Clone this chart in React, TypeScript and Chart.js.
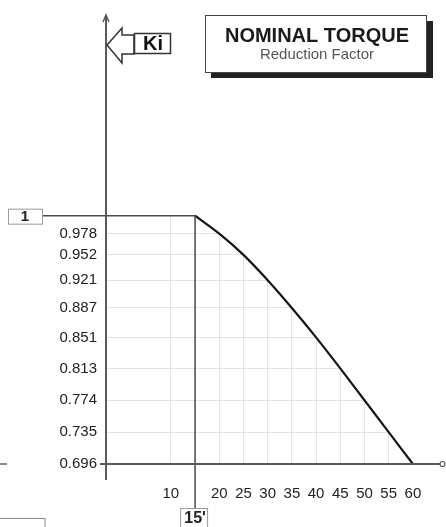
import { useEffect, useRef } from "react";
import { Chart, registerables } from "chart.js";

Chart.register(...registerables);

// ---- data ----
const DURATION = [15, 20, 25, 30, 35, 40, 45, 50, 55, 60];
const KI = [1, 0.978, 0.952, 0.921, 0.887, 0.851, 0.813, 0.774, 0.735, 0.696];
const X_TICKS = [10, 20, 25, 30, 35, 40, 45, 50, 55, 60];
const Y_TICKS = [0.978, 0.952, 0.921, 0.887, 0.851, 0.813, 0.774, 0.735, 0.696];
const X_MIN = -3.4;
const X_MAX = 65.6;
const Y_MIN = 0.696;
const Y_MAX = 1.242;
const KNEE = 15;
const KNEE_LABEL = "15'";
const ONE_LABEL = "1";
const TITLE = "NOMINAL TORQUE";
const SUBTITLE = "Reduction Factor";
const Y_NAME = "Ki";

const FONT = "'Liberation Sans', Arial, sans-serif";

const decor = {
  id: "decor",
  afterDatasetsDraw(chart: any) {
    const { ctx, chartArea: a, scales } = chart;
    const x = scales.x;
    const y = scales.y;
    const x0 = a.left;
    const y0 = y.getPixelForValue(Y_MIN);
    const yOne = y.getPixelForValue(1);
    const xK = x.getPixelForValue(KNEE);
    ctx.save();

    // knee vertical line
    ctx.strokeStyle = "#4a4a4a";
    ctx.lineWidth = 1.5;
    ctx.beginPath();
    ctx.moveTo(xK, yOne);
    ctx.lineTo(xK, 508);
    ctx.stroke();

    // axes
    ctx.strokeStyle = "#5a5a5a";
    ctx.lineWidth = 2;
    ctx.beginPath();
    ctx.moveTo(x0, a.top - 2);
    ctx.lineTo(x0, y0 + 16);
    ctx.stroke();
    ctx.beginPath();
    ctx.moveTo(x0 - 6, y0);
    ctx.lineTo(a.right, y0);
    ctx.stroke();
    // x-axis end circle
    ctx.lineWidth = 1.2;
    ctx.fillStyle = "#fff";
    ctx.beginPath();
    ctx.arc(a.right + 2.5, y0, 2.5, 0, Math.PI * 2);
    ctx.fill();
    ctx.stroke();
    // y-axis top mark
    ctx.lineWidth = 1.5;
    ctx.beginPath();
    ctx.moveTo(x0 - 3, a.top + 4);
    ctx.lineTo(x0, a.top - 3);
    ctx.lineTo(x0 + 3, a.top + 4);
    ctx.stroke();

    // "1" line and box
    ctx.strokeStyle = "#4a4a4a";
    ctx.lineWidth = 1.5;
    ctx.beginPath();
    ctx.moveTo(42, yOne);
    ctx.lineTo(x0, yOne);
    ctx.stroke();
    ctx.strokeStyle = "#9a9a9a";
    ctx.lineWidth = 1;
    ctx.strokeRect(8.5, yOne - 6.5, 34, 15);
    ctx.fillStyle = "#222";
    ctx.textAlign = "center";
    ctx.textBaseline = "middle";
    ctx.font = `bold 15px ${FONT}`;
    ctx.fillText(ONE_LABEL, 25, yOne + 1.5);

    // "15'" box
    ctx.strokeStyle = "#9a9a9a";
    ctx.strokeRect(xK - 14.5, 508.5, 27, 22);
    ctx.fillStyle = "#222";
    ctx.font = `bold 16px ${FONT}`;
    ctx.fillText(KNEE_LABEL, xK, 519);

    // Ki arrow + box
    const ty = a.top + 27;
    ctx.strokeStyle = "#333";
    ctx.lineWidth = 1.5;
    ctx.fillStyle = "#fff";
    ctx.beginPath();
    ctx.moveTo(x0 + 1, ty);
    ctx.lineTo(x0 + 16, ty - 17);
    ctx.lineTo(x0 + 16, ty - 10);
    ctx.lineTo(x0 + 28, ty - 10);
    ctx.lineTo(x0 + 28, ty + 9);
    ctx.lineTo(x0 + 16, ty + 9);
    ctx.lineTo(x0 + 16, ty + 18);
    ctx.closePath();
    ctx.fill();
    ctx.stroke();
    ctx.beginPath();
    ctx.rect(x0 + 28.5, ty - 11.5, 36, 20);
    ctx.fill();
    ctx.stroke();
    ctx.fillStyle = "#111";
    ctx.font = `bold 20px ${FONT}`;
    ctx.fillText(Y_NAME, x0 + 47, ty - 1);

    // title box with shadow
    ctx.fillStyle = "#222";
    ctx.fillRect(211, 72, 222, 6);
    ctx.fillRect(427, 21, 6, 57);
    ctx.fillStyle = "#fff";
    ctx.fillRect(205, 15, 222, 58);
    ctx.strokeStyle = "#444";
    ctx.lineWidth = 1;
    ctx.strokeRect(205.5, 15.5, 221, 57);
    ctx.fillStyle = "#1a1a1a";
    ctx.font = `bold 20px ${FONT}`;
    ctx.fillText(TITLE, 317, 36);
    ctx.fillStyle = "#555";
    ctx.font = `15px ${FONT}`;
    ctx.fillText(SUBTITLE, 317, 55);

    // scan remnants at left edge
    ctx.strokeStyle = "#666";
    ctx.lineWidth = 1.5;
    ctx.beginPath();
    ctx.moveTo(0, y0);
    ctx.lineTo(7, y0);
    ctx.stroke();
    ctx.lineWidth = 1;
    ctx.strokeStyle = "#888";
    ctx.strokeRect(-1, 518.5, 46, 12);

    ctx.restore();
  },
};

export default function App() {
  const ref = useRef<HTMLCanvasElement | null>(null);

  useEffect(() => {
    document.body.style.margin = "0";
    const canvas = ref.current;
    if (!canvas) return;
    const last = DURATION[DURATION.length - 1];
    const chart = new Chart(canvas, {
      type: "line",
      data: {
        datasets: [
          {
            label: "flat",
            data: [
              { x: X_MIN, y: 1 },
              { x: KNEE, y: 1 },
            ],
            borderColor: "#4a4a4a",
            borderWidth: 1.5,
            pointRadius: 0,
            fill: "end",
            backgroundColor: "#ffffff",
            tension: 0,
          },
          {
            label: Y_NAME,
            data: DURATION.map((d, i) => ({ x: d, y: KI[i] })),
            borderColor: "#151515",
            borderWidth: 2.2,
            pointRadius: 0,
            fill: "end",
            backgroundColor: "#ffffff",
            cubicInterpolationMode: "monotone",
          },
          {
            // blank area to the right of the curve (hides grid there)
            label: "cover",
            data: [
              { x: last, y: Y_MIN },
              { x: X_MAX, y: Y_MIN },
            ],
            borderWidth: 0,
            borderColor: "rgba(0,0,0,0)",
            pointRadius: 0,
            fill: "end",
            backgroundColor: "#ffffff",
          },
        ],
      },
      options: {
        animation: false,
        responsive: false,
        maintainAspectRatio: false,
        layout: { padding: { left: 0, top: 8, right: 6, bottom: 0 } },
        plugins: {
          legend: { display: false },
          tooltip: { enabled: false },
          title: { display: false },
        },
        scales: {
          x: {
            type: "linear",
            min: X_MIN,
            max: X_MAX,
            afterBuildTicks: (s: any) => {
              s.ticks = X_TICKS.map((v) => ({ value: v }));
            },
            afterFit: (s: any) => {
              s.height = 63;
            },
            grid: {
              color: (c: any) => (c.tick && c.tick.value === last ? "rgba(0,0,0,0)" : "#e3e3e3"),
              drawTicks: false,
              lineWidth: 1,
            },
            border: { display: false },
            ticks: {
              padding: 21,
              color: "#222",
              autoSkip: false,
              maxRotation: 0,
              font: { family: FONT, size: 15 },
              callback: (v: any) => String(v),
            },
          },
          y: {
            type: "linear",
            min: Y_MIN,
            max: Y_MAX,
            afterBuildTicks: (s: any) => {
              s.ticks = Y_TICKS.map((v) => ({ value: v }));
            },
            afterFit: (s: any) => {
              s.width = 106;
            },
            grid: { color: "#e3e3e3", drawTicks: false, lineWidth: 1 },
            border: { display: false },
            ticks: {
              padding: 9,
              color: "#222",
              autoSkip: false,
              font: { family: FONT, size: 15 },
              callback: (v: any) => Number(v).toFixed(3),
            },
          },
        },
      },
      plugins: [decor],
    } as any);
    return () => chart.destroy();
  }, []);

  return (
    <div style={{ position: "absolute", left: 0, top: 0, width: 446, height: 527, background: "#fff" }}>
      <canvas ref={ref} width={446} height={527} style={{ display: "block" }} />
    </div>
  );
}
